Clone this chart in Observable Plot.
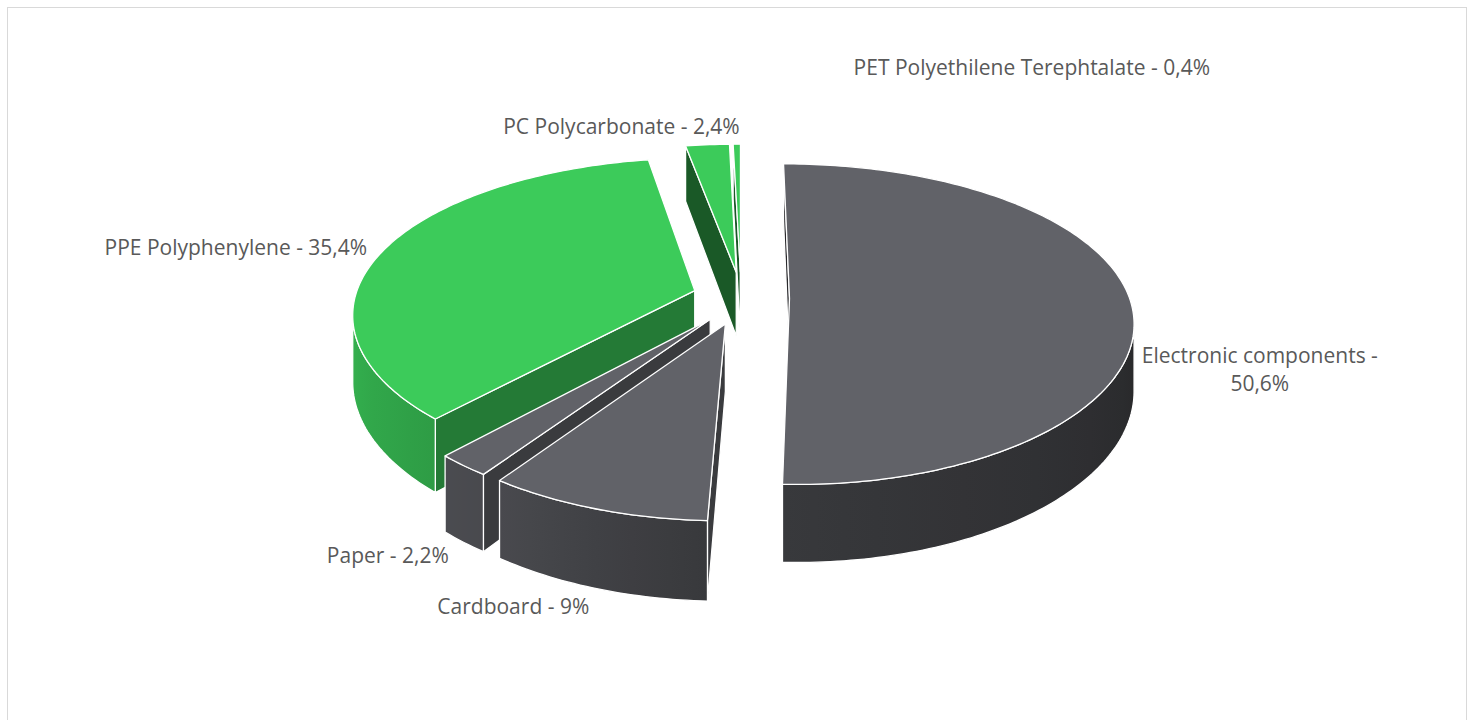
<!DOCTYPE html>
<html><head><meta charset="utf-8">
<script src="https://cdn.jsdelivr.net/npm/d3@7"></script>
<script src="https://cdn.jsdelivr.net/npm/@observablehq/plot@0.6"></script>
<style>
html,body{margin:0;padding:0;background:#fff;overflow:hidden}
#chart{position:absolute;left:0;top:0}
#frame{position:absolute;left:7px;top:7px;width:1460px;height:740px;border:1.5px solid #d9d9d9;box-sizing:border-box;pointer-events:none}
</style></head><body>
<div id="chart"></div><div id="frame"></div>
<script>
// ---- data ----
const categories = ["Electronic components", "Cardboard", "Paper", "PPE Polyphenylene", "PC Polycarbonate", "PET Polyethilene Terephtalate"];
const shares = [50.6, 9, 2.2, 35.4, 2.4, 0.4];
const shareLabels = ["50,6%", "9%", "2,2%", "35,4%", "2,4%", "0,4%"];
const kinds = ["other", "other", "other", "plastic", "plastic", "plastic"];

// ---- styling / layout ----
const W = 1474, H = 720;
const view = {cx: 740.5, cy: 297.5, sx: 340, sy: 156, depth: 65.5, px: 0.14, py: 0.16, eu: 0.1426, ev: 0.171};
const baseColor = {other: "#616268", plastic: "#3ccb5a"};
const labelLayout = [
  {dx: 129.2, dy: 34, wrap: true},
  {dx: -82.8, dy: 56},
  {dx: -75.6, dy: 50},
  {dx: -148.4, dy: -35},
  {dx: -86, dy: -47},
  {dx: 295, dy: -106}
];
const sideShade = d3.scaleLinear().domain([90, 180, 215, 270]).range([0.40, 0.57, 0.75, 0.9]).clamp(true);
const radialShade = d3.scaleLinear().domain([90, 135, 250, 280]).range([0.6, 0.6, 0.44, 0.43]).clamp(true);
function shade(hex, f) { const c = d3.rgb(hex); return d3.rgb(c.r * f, c.g * f, c.b * f).formatHex(); }

// ---- geometry ----
const total = d3.sum(shares);
let acc = 0;
const slices = shares.map((s, i) => {
  const a0 = acc / total * 360; acc += s; const a1 = acc / total * 360;
  return {i, a0, a1, mid: (a0 + a1) / 2};
});
const rad = d => d * Math.PI / 180;
function proj(sl, theta, r, w) {
  const m = rad(sl.mid), t = rad(theta);
  const u = view.eu * Math.sin(m) + r * Math.sin(t);
  const v = -view.ev * Math.cos(m) - r * Math.cos(t);
  const X = view.sx * u / (1 - view.px * v);
  const Y = (view.sy * v + view.depth * w) / (1 - view.py * v);
  return [X / view.sx, Y / view.sx];
}
function area(p) { let s = 0; for (let k = 0; k < p.length; k++) { const a = p[k], b = p[(k + 1) % p.length]; s += a[0] * b[1] - b[0] * a[1]; } return s / 2; }

const faces = [];
const order = slices.slice().sort((a, b) => (-Math.cos(rad(a.mid))) - (-Math.cos(rad(b.mid))));
let gid = 0;
const gradients = [];
for (const sl of order) {
  const base = baseColor[kinds[sl.i]];
  const steps = Math.max(2, Math.ceil(sl.a1 - sl.a0));
  const th = d3.range(steps + 1).map(k => sl.a0 + (sl.a1 - sl.a0) * k / steps);
  const aT = proj(sl, 0, 0, 0), aB = proj(sl, 0, 0, 1);
  const f0 = [aT, proj(sl, sl.a0, 1, 0), proj(sl, sl.a0, 1, 1), aB];
  if (area(f0) < 0) faces.push({pts: f0, fill: shade(base, radialShade(((sl.a0 - 90) % 360 + 360) % 360))});
  const f1 = [aT, aB, proj(sl, sl.a1, 1, 1), proj(sl, sl.a1, 1, 0)];
  if (area(f1) < 0) faces.push({pts: f1, fill: shade(base, radialShade(((sl.a1 + 90) % 360 + 360) % 360))});
  // outer curved side, visible part
  const vis = [];
  for (let k = 0; k < steps; k++) {
    const q = [proj(sl, th[k], 1, 0), proj(sl, th[k + 1], 1, 0), proj(sl, th[k + 1], 1, 1), proj(sl, th[k], 1, 1)];
    if (area(q) < 0) { if (!vis.length || vis[vis.length - 1] !== th[k]) vis.push(th[k]); vis.push(th[k + 1]); }
  }
  if (vis.length > 1) {
    const top = vis.map(t => proj(sl, t, 1, 0)), bot = vis.map(t => proj(sl, t, 1, 1)).reverse();
    const pts = top.concat(bot);
    const xs = pts.map(p => p[0]), x0 = d3.min(xs), x1 = d3.max(xs);
    const id = "side" + (gid++);
    const stops = d3.range(7).map(k => {
      const t = vis[0] + (vis[vis.length - 1] - vis[0]) * k / 6;
      return {offset: (x1 - x0) > 1e-9 ? (proj(sl, t, 1, 0)[0] - x0) / (x1 - x0) : k / 6, color: shade(base, sideShade(t))};
    }).sort((a, b) => a.offset - b.offset);
    gradients.push({id, stops});
    faces.push({pts, fill: `url(#${id})`});
  }
  faces.push({pts: [aT, ...th.map(t => proj(sl, t, 1, 0))], fill: base});
}

const marks = faces.map(f => Plot.line(f.pts.concat([f.pts[0]]), {
  x: d => d[0], y: d => d[1], fill: f.fill, stroke: "white", strokeWidth: 1.3, strokeLinejoin: "round"
}));

slices.forEach(sl => {
  const L = labelLayout[sl.i];
  const text = L.wrap ? `${categories[sl.i]} -\n${shareLabels[sl.i]}` : `${categories[sl.i]} - ${shareLabels[sl.i]}`;
  const a = proj(sl, sl.mid, 1, 0.5);
  marks.push(Plot.text([{x: a[0], y: a[1], text}], {
    x: "x", y: "y", text: "text", dx: L.dx, dy: L.dy, textAnchor: "middle", lineAnchor: "middle",
    lineHeight: 1.333, fontSize: 21, fontFamily: "Open Sans", fill: "#595959"
  }));
});

const chart = Plot.plot({
  width: W, height: H, margin: 0,
  x: {type: "linear", domain: [-view.cx / view.sx, (W - view.cx) / view.sx], range: [0, W], axis: null},
  y: {type: "linear", domain: [-view.cy / view.sx, (H - view.cy) / view.sx], range: [0, H], axis: null},
  style: {background: "transparent", fontFamily: "Open Sans"},
  marks
});
const defs = d3.select(chart).insert("defs", ":first-child");
gradients.forEach(g => {
  const lg = defs.append("linearGradient").attr("id", g.id).attr("x1", 0).attr("y1", 0).attr("x2", 1).attr("y2", 0);
  g.stops.forEach(s => lg.append("stop").attr("offset", s.offset).attr("stop-color", s.color));
});
document.getElementById("chart").appendChild(chart);
</script>
</body></html>
